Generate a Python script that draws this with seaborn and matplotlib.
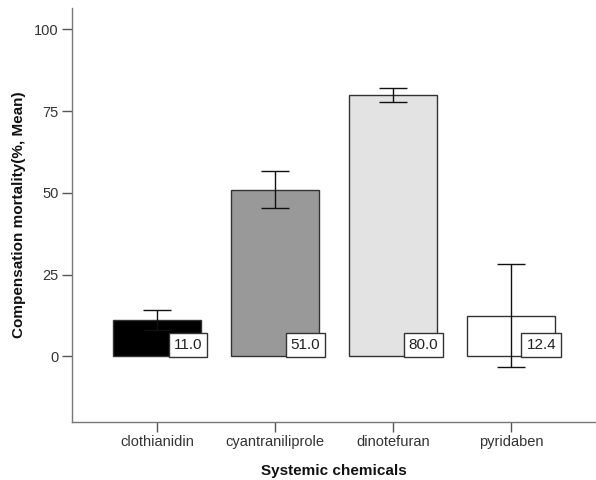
import numpy as np
import pandas as pd
import matplotlib
matplotlib.use("Agg")
import matplotlib.pyplot as plt
import seaborn as sns

categories = ["clothianidin", "cyantraniliprole", "dinotefuran", "pyridaben"]
means = [11.0, 51.0, 80.0, 12.4]
err_low = [7.9, 45.4, 77.8, -3.3]
err_high = [14.1, 56.6, 82.2, 28.2]
bar_colors = ["#000000", "#999999", "#e3e3e3", "#ffffff"]
y_ticks = [0, 25, 50, 75, 100]

sns.set_theme(style="white")
plt.rcParams["font.family"] = ["Liberation Sans", "DejaVu Sans"]

df = pd.DataFrame({"chem": categories, "mean": means})

fig = plt.figure(figsize=(5.96, 4.80), dpi=100)
ax = fig.add_axes([0.1208, 0.1215, 0.8792, 0.8615])

sns.barplot(data=df, x="chem", y="mean", hue="chem", palette=bar_colors,
            order=categories, hue_order=categories, legend=False,
            errorbar=None, width=0.75, edgecolor="#333333", linewidth=1.0,
            saturation=1, ax=ax)

m = np.array(means)
lo = np.array(err_low)
hi = np.array(err_high)
ax.errorbar(np.arange(len(categories)), m, yerr=[m - lo, hi - m], fmt="none",
            ecolor="#111111", elinewidth=1.0, capsize=10.4, capthick=1.0,
            zorder=3)

for i, v in enumerate(means):
    ax.annotate(f"{v:.1f}", xy=(i + 0.375, 0), xytext=(0.5, 3.2),
                textcoords="offset points", ha="right", va="bottom",
                fontsize=11, color="#222222", zorder=5,
                bbox=dict(boxstyle="square,pad=0.32", fc="white",
                          ec="#333333", lw=1.0))

ax.set_ylim(-20, 106.5)
ax.set_xlim(-0.723, 3.72)
ax.set_yticks(y_ticks)
ax.set_yticklabels([str(t) for t in y_ticks])
ax.tick_params(axis="both", which="both", direction="out", length=7.5,
               width=1.0, color="#555555", labelsize=10.5,
               labelcolor="#333333", left=True, bottom=True, pad=2)
for s in ["top", "right"]:
    ax.spines[s].set_visible(False)
for s in ["left", "bottom"]:
    ax.spines[s].set_color("#777777")
    ax.spines[s].set_linewidth(1.0)

ax.set_xlabel("Systemic chemicals", fontsize=11, fontweight="bold",
              color="#111111", labelpad=11)
ax.set_ylabel("Compensation mortality(%, Mean)", fontsize=11,
              fontweight="bold", color="#111111", labelpad=6)

fig.savefig("out.png", dpi=100)
